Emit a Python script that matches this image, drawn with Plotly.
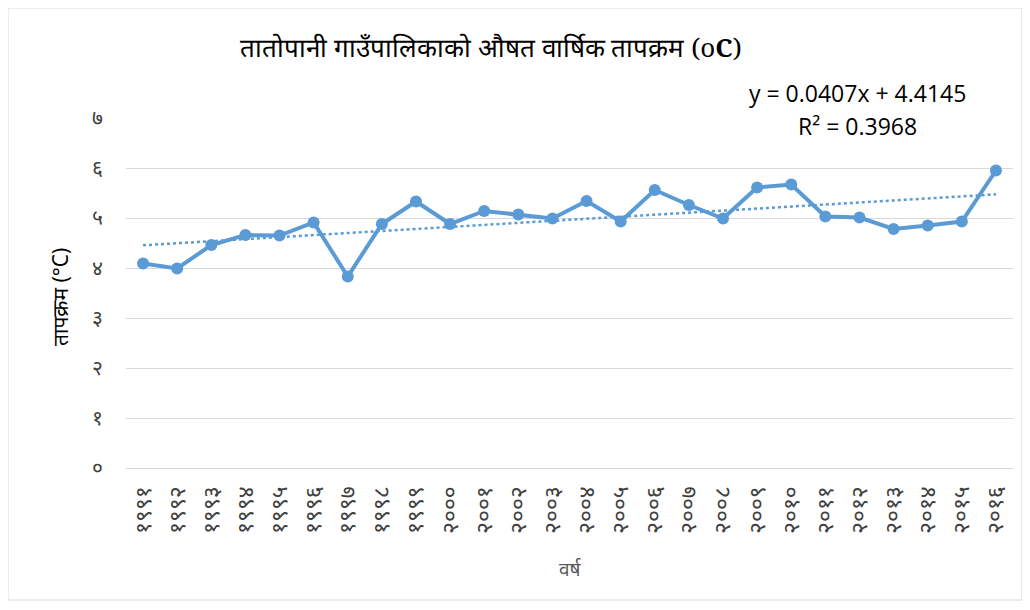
import plotly.graph_objects as go

years = ["१९९१", "१९९२", "१९९३", "१९९४", "१९९५", "१९९६", "१९९७", "१९९८", "१९९९", "२०००",
         "२००१", "२००२", "२००३", "२००४", "२००५", "२००६", "२००७", "२००८", "२००९", "२०१०",
         "२०११", "२०१२", "२०१३", "२०१४", "२०१५", "२०१६"]
temps = [4.09, 3.99, 4.46, 4.66, 4.65, 4.91, 3.83, 4.88, 5.33, 4.88,
         5.14, 5.07, 4.99, 5.34, 4.93, 5.56, 5.26, 4.99, 5.61, 5.67,
         5.03, 5.01, 4.78, 4.85, 4.93, 5.95]
y_tick_vals = [0, 1, 2, 3, 4, 5, 6, 7]
y_tick_text = ["०", "१", "२", "३", "४", "५", "६", "७"]
trend_slope = 0.0407
trend_intercept = 4.4145
r_squared = 0.3968

trend = [trend_slope * (i + 1) + trend_intercept for i in range(len(years))]

color = "#5B9BD5"
fig = go.Figure()
fig.add_trace(go.Scatter(x=years, y=temps, mode="lines+markers",
                         line=dict(color=color, width=4),
                         marker=dict(color=color, size=12),
                         showlegend=False, hoverinfo="x+y"))
fig.add_trace(go.Scatter(x=years, y=trend, mode="lines",
                         line=dict(color=color, width=2.5, dash="dot"),
                         showlegend=False, hoverinfo="skip"))

# plot area (page px): x 126..1013, y 118..468 ; page has 8px body offset
W, H = 887, 350
fig.update_layout(
    width=1030, height=610,
    margin=dict(l=118, r=25, t=110, b=150, autoexpand=False),
    paper_bgcolor="white", plot_bgcolor="white",
    font=dict(family="Noto Sans, DejaVu Sans, sans-serif", color="#404040"),
    title=dict(text="तातोपानी गाउँपालिकाको औषत वार्षिक तापक्रम (o<b>C</b>)",
               x=0.469, xanchor="center", y=0.934, yanchor="middle",
               font=dict(size=26, color="black", family="Noto Serif, DejaVu Serif, serif")),
    xaxis=dict(range=[-0.5, len(years) - 0.5],
               showgrid=False, showline=True, linecolor="#D9D9D9", linewidth=1,
               automargin=False,
               tickangle=-90, tickfont=dict(size=23, color="#404040"),
               ticks="", ticklabelstandoff=8),
    yaxis=dict(range=[0, 7], tickvals=y_tick_vals, ticktext=y_tick_text,
               automargin=False,
               showgrid=True, gridcolor="#D9D9D9", gridwidth=1, zeroline=False,
               tickfont=dict(size=21, color="#404040"), ticks="",
               ticklabelstandoff=22),
    shapes=[dict(type="rect", xref="paper", yref="paper",
                 x0=-118 / W, x1=1 + 9 / W, y0=-132 / H, y1=1 + 110 / H,
                 line=dict(color="#D9D9D9", width=1))],
    annotations=[
        dict(text=f"y = {trend_slope}x + {trend_intercept}",
             xref="paper", yref="paper", x=(857 - 126) / W, y=(468 - 93) / H,
             xanchor="center", yanchor="middle", showarrow=False,
             font=dict(size=23, color="black", family="Open Sans, Liberation Sans, Arial")),
        dict(text=f"R² = {r_squared}",
             xref="paper", yref="paper", x=(857 - 126) / W, y=(468 - 126) / H,
             xanchor="center", yanchor="middle", showarrow=False,
             font=dict(size=23, color="black", family="Open Sans, Liberation Sans, Arial")),
        dict(text="तापक्रम (°C)", textangle=-90,
             xref="paper", yref="paper", x=(60 - 126) / W, y=(468 - 297) / H,
             xanchor="center", yanchor="middle", showarrow=False,
             font=dict(size=21, color="black")),
        dict(text="वर्ष",
             xref="paper", yref="paper", x=(570 - 126) / W, y=(468 - 569) / H,
             xanchor="center", yanchor="middle", showarrow=False,
             font=dict(size=19, color="#595959")),
    ],
)

fig.write_html("out.html")
